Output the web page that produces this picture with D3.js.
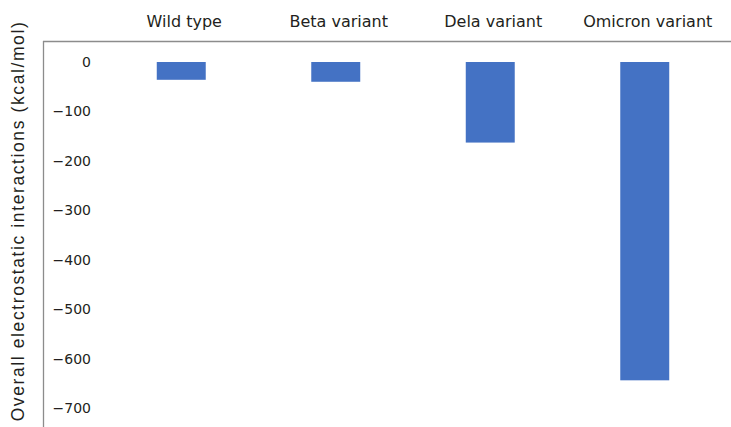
<!DOCTYPE html>
<html>
<head>
<meta charset="utf-8">
<script src="https://cdn.jsdelivr.net/npm/d3@7"></script>
<style>
  html, body { margin: 0; padding: 0; background: #fff; }
  svg { display: block; font-family: "DejaVu Sans", Verdana, sans-serif; }
</style>
</head>
<body>
<svg id="chart" width="731" height="427"></svg>
<script>
// Electrostatic interaction energies per spike variant
const categories = ["Wild type", "Beta variant", "Dela variant", "Omicron variant"];
const values = [-36, -40, -163, -644];
const yTicks = [0, -100, -200, -300, -400, -500, -600, -700];

const svg = d3.select("#chart");
const W = 731, H = 427;

const y = d3.scaleLinear().domain([0, -700]).range([62, 408]);
const x = d3.scaleBand()
  .domain(categories)
  .range([104, 722])
  .paddingInner(0.683)
  .paddingOuter(0.3415);

const textColor = "#231f20";
const axisColor = "#8c8c8c";

// Frame lines: top (category axis) and left (value axis)
svg.append("line")
  .attr("x1", 43).attr("x2", W)
  .attr("y1", 41.5).attr("y2", 41.5)
  .attr("stroke", axisColor).attr("stroke-width", 1.3);
svg.append("line")
  .attr("x1", 43.5).attr("x2", 43.5)
  .attr("y1", 41).attr("y2", H)
  .attr("stroke", axisColor).attr("stroke-width", 1.3);

// Value axis tick labels
const yAxis = d3.axisLeft(y)
  .tickValues(yTicks)
  .tickSize(0)
  .tickPadding(0)
  .tickFormat(d => d < 0 ? "\u2212" + Math.abs(d) : String(d));
const gy = svg.append("g").attr("transform", "translate(91,0)").call(yAxis);
gy.select(".domain").remove();
gy.selectAll("text")
  .attr("fill", textColor)
  .style("font-size", "14px")
  .style("font-family", "\"DejaVu Sans\", Verdana, sans-serif");

// Category labels across the top
const xAxis = d3.axisTop(x).tickSize(0).tickPadding(0);
const gx = svg.append("g").attr("transform", "translate(3,27)").call(xAxis);
gx.select(".domain").remove();
gx.selectAll("text")
  .attr("fill", textColor)
  .attr("dy", "0")
  .style("font-size", "16px")
  .style("font-family", "\"DejaVu Sans\", Verdana, sans-serif");

// Bars hanging down from zero
svg.append("g").selectAll("rect")
  .data(categories.map((c, i) => ({ c, v: values[i] })))
  .join("rect")
  .attr("x", d => x(d.c))
  .attr("width", x.bandwidth())
  .attr("y", y(0))
  .attr("height", d => y(d.v) - y(0))
  .attr("fill", "#4472c4");

// Value axis title
svg.append("text")
  .attr("transform", "translate(24," + 221 + ") rotate(-90)")
  .attr("text-anchor", "middle")
  .attr("fill", textColor)
  .style("font-size", "17.5px")
  .style("letter-spacing", "1.6px")
  .style("font-family", "\"Liberation Sans\", Arial, sans-serif")
  .text("Overall electrostatic interactions (kcal/mol)");
</script>
</body>
</html>
